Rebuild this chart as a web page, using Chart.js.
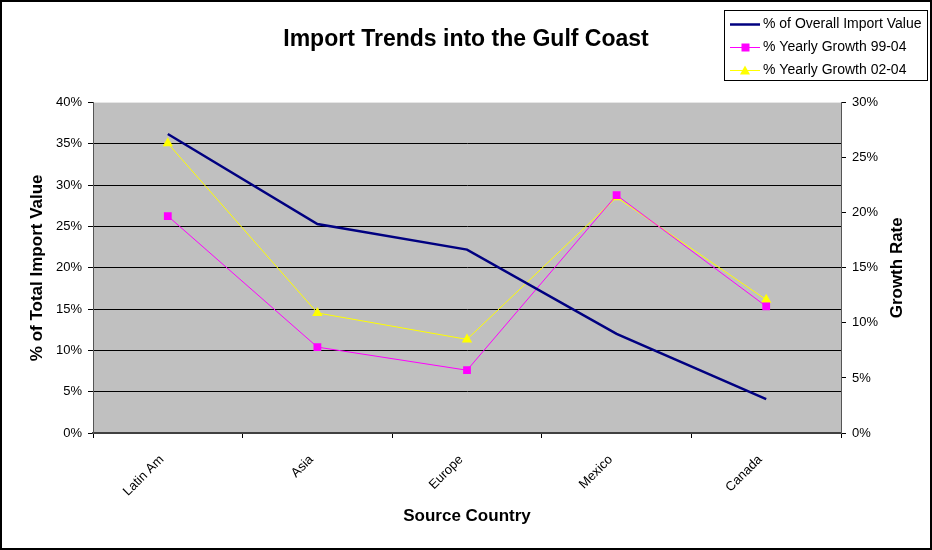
<!DOCTYPE html>
<html>
<head>
<meta charset="utf-8">
<script src="https://cdn.jsdelivr.net/npm/chart.js@4"></script>
<style>
  body { margin: 0; background: #fff; }
  #wrap { width: 932px; height: 550px; }
</style>
</head>
<body>
<div id="wrap"><canvas id="grafico" width="932" height="550"></canvas></div>
<script>
// dados
const categorias = ['Latin Am', 'Asia', 'Europe', 'Mexico', 'Canada'];
const importGeral = [36.2, 25.3, 22.2, 12.0, 4.1];   // eixo esquerdo
const cresc9904 = [19.7, 7.8, 5.7, 21.6, 11.5];      // eixo direito
const cresc0204 = [26.3, 10.9, 8.5, 21.4, 12.1];     // eixo direito

const nomesSeries = ['% of Overall Import Value', '% Yearly Growth 99-04', '% Yearly Growth 02-04'];
const coresSeries = ['#000080', '#ff00ff', '#ffff00'];

const fonte = 'Liberation Sans, Arial, sans-serif';
Chart.defaults.font.family = fonte;
Chart.defaults.color = '#000';

// fundo cinza da area do grafico + moldura externa + legenda + titulo direito
const extras = {
    id: 'extras',
    beforeDraw(chart) {
        const { ctx, chartArea: a } = chart;
        ctx.save();
        ctx.fillStyle = '#fff';
        ctx.fillRect(0, 0, chart.width, chart.height);
        ctx.fillStyle = '#c0c0c0';
        ctx.fillRect(a.left, a.top, a.right - a.left, a.bottom - a.top);
        ctx.restore();
    },
    afterDraw(chart) {
        const ctx = chart.ctx;
        ctx.save();
        // moldura
        ctx.strokeStyle = '#000';
        ctx.lineWidth = 2;
        ctx.strokeRect(1, 1, chart.width - 2, chart.height - 2);

        // titulo do eixo direito (lido de baixo para cima)
        ctx.translate(897, (chart.chartArea.top + chart.chartArea.bottom) / 2);
        ctx.rotate(-Math.PI / 2);
        ctx.font = 'bold 17px ' + fonte;
        ctx.fillStyle = '#000';
        ctx.textAlign = 'center';
        ctx.textBaseline = 'middle';
        ctx.fillText('Growth Rate', 0, 0);
        ctx.restore();

        // legenda
        ctx.save();
        ctx.fillStyle = '#fff';
        ctx.fillRect(724, 10, 203, 70);
        ctx.strokeStyle = '#000';
        ctx.lineWidth = 1;
        ctx.strokeRect(724.5, 10.5, 203, 70);
        const linhas = [24, 47, 70];
        ctx.font = '14px ' + fonte;
        ctx.textBaseline = 'middle';
        nomesSeries.forEach((nome, i) => {
            const y = linhas[i] + 0.5;
            ctx.strokeStyle = coresSeries[i];
            ctx.lineWidth = i === 0 ? 2.5 : 1;
            ctx.beginPath();
            ctx.moveTo(730, y);
            ctx.lineTo(760, y);
            ctx.stroke();
            ctx.fillStyle = coresSeries[i];
            if (i === 1) {
                ctx.fillRect(741.5, y - 4, 8, 8);
            } else if (i === 2) {
                ctx.beginPath();
                ctx.moveTo(745, y - 5);
                ctx.lineTo(750, y + 4);
                ctx.lineTo(740, y + 4);
                ctx.closePath();
                ctx.fill();
            }
            ctx.fillStyle = '#000';
            ctx.fillText(nome, 763, linhas[i]);
        });
        ctx.restore();
    }
};

new Chart(document.getElementById('grafico'), {
    type: 'line',
    data: {
        labels: categorias,
        datasets: [
            {
                label: nomesSeries[0],
                data: importGeral,
                yAxisID: 'y',
                borderColor: coresSeries[0],
                borderWidth: 2.5,
                pointRadius: 0,
                tension: 0
            },
            {
                label: nomesSeries[1],
                data: cresc9904,
                yAxisID: 'y1',
                borderColor: coresSeries[1],
                backgroundColor: coresSeries[1],
                borderWidth: 1,
                pointStyle: 'rect',
                pointRadius: 5.5,
                pointBorderWidth: 0,
                tension: 0
            },
            {
                label: nomesSeries[2],
                data: cresc0204,
                yAxisID: 'y1',
                borderColor: coresSeries[2],
                backgroundColor: coresSeries[2],
                borderWidth: 1,
                pointStyle: 'triangle',
                pointRadius: 6,
                pointBorderWidth: 0,
                tension: 0
            }
        ]
    },
    options: {
        responsive: false,
        animation: false,
        layout: { padding: 0 },
        plugins: {
            legend: { display: false },
            tooltip: { enabled: false },
            title: {
                display: true,
                text: 'Import Trends into the Gulf Coast',
                font: { size: 23, weight: 'bold' },
                color: '#000',
                padding: { top: 26, bottom: 49 }
            }
        },
        scales: {
            x: {
                offset: true,
                grid: {
                    offset: true,
                    drawOnChartArea: false,
                    tickLength: 5,
                    tickColor: '#000'
                },
                border: { color: '#404040', width: 2 },
                ticks: {
                    font: { size: 13 },
                    maxRotation: 45,
                    minRotation: 45,
                    padding: 14,
                    labelOffset: -6
                },
                title: {
                    display: true,
                    text: 'Source Country',
                    font: { size: 17, weight: 'bold' },
                    padding: { top: 0, bottom: 23 }
                },
                afterFit(scale) { scale.height = 117; }
            },
            y: {
                position: 'left',
                min: 0,
                max: 40,
                ticks: {
                    stepSize: 5,
                    font: { size: 13 },
                    padding: 6,
                    callback: v => v + '%'
                },
                grid: {
                    color: c => (c.tick && c.tick.value === 40) ? 'rgba(0,0,0,0)' : '#000',
                    tickColor: '#000',
                    tickLength: 5,
                    lineWidth: 1
                },
                border: { color: '#555', width: 1 },
                title: {
                    display: true,
                    text: '% of Total Import Value',
                    font: { size: 17, weight: 'bold' },
                    padding: { top: 27, bottom: 0 }
                },
                afterFit(scale) { scale.width = 93; }
            },
            y1: {
                position: 'right',
                min: 0,
                max: 30,
                ticks: {
                    stepSize: 5,
                    font: { size: 13 },
                    padding: 6,
                    callback: v => v + '%'
                },
                grid: {
                    drawOnChartArea: false,
                    tickColor: '#000',
                    tickLength: 5
                },
                border: { color: '#555', width: 1 },
                afterFit(scale) { scale.width = 91; }
            }
        }
    },
    plugins: [extras]
});
</script>
</body>
</html>
